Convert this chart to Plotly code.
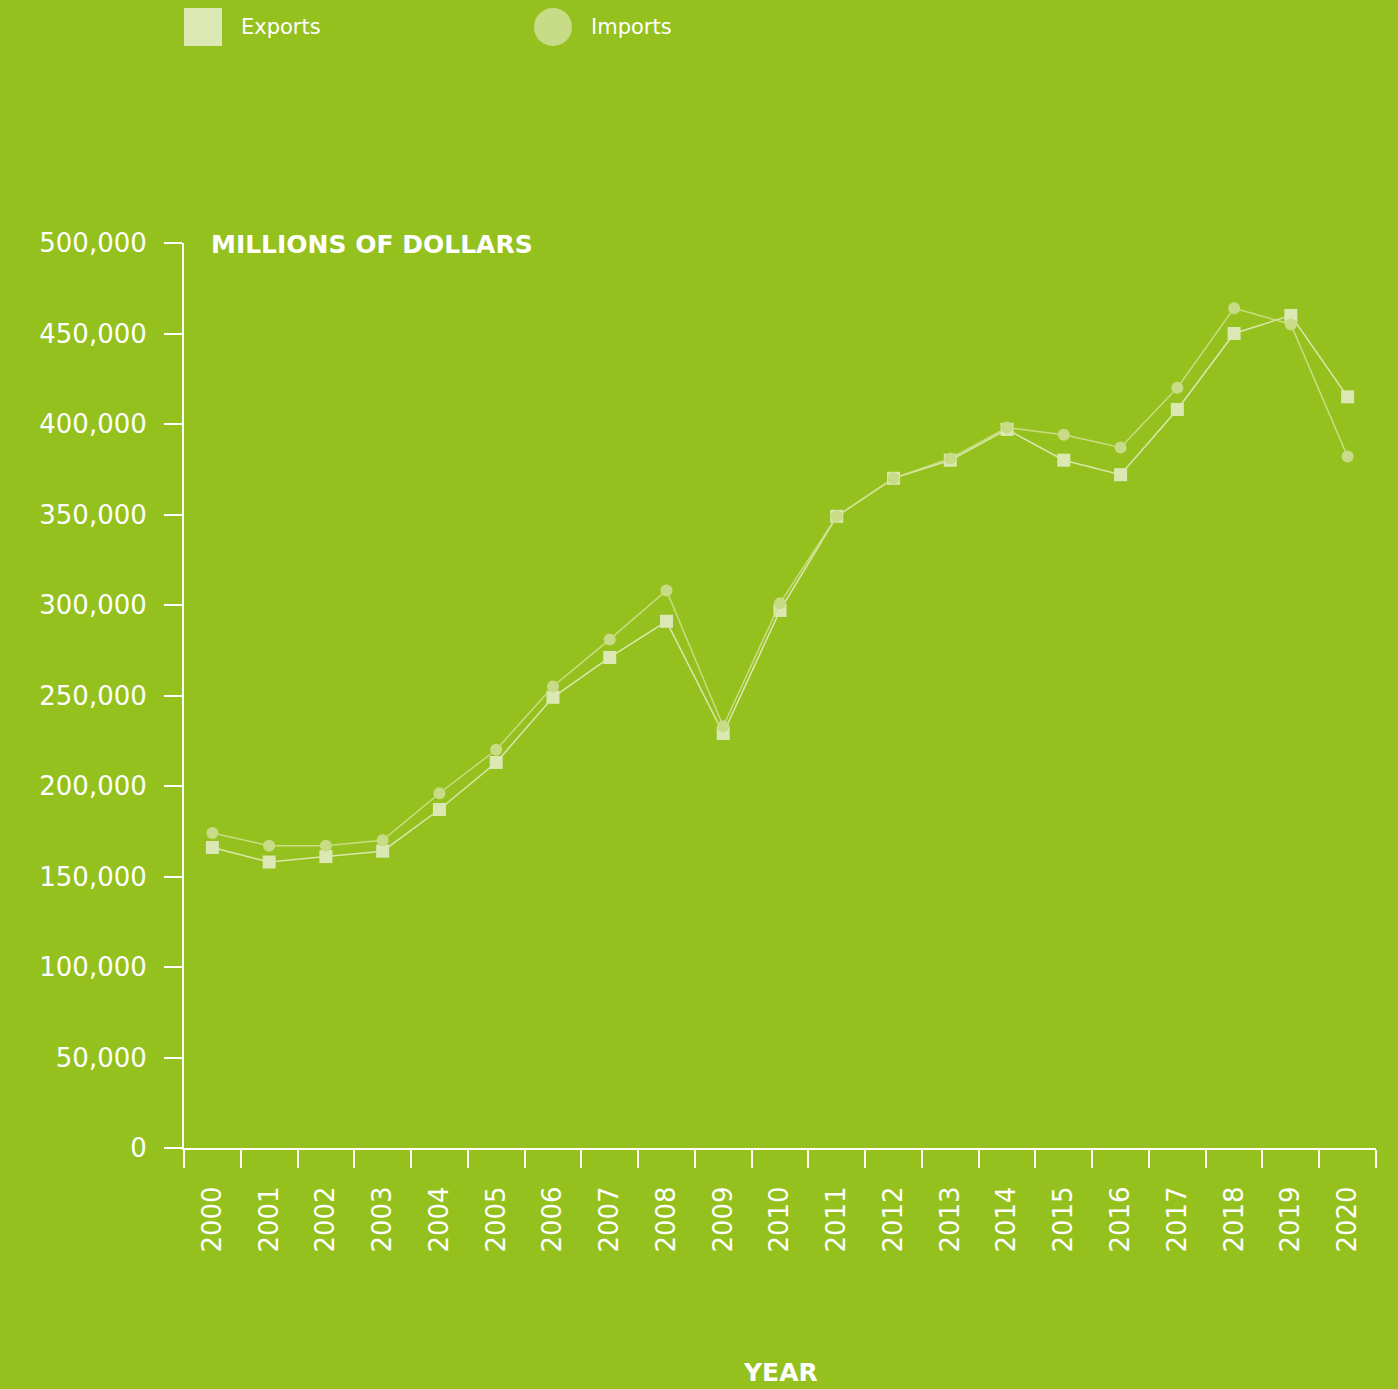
import plotly.graph_objects as go

# Trade totals by year, millions of US dollars
years = [str(y) for y in range(2000, 2021)]
exports = [166000, 158000, 161000, 164000, 187000, 213000, 249000, 271000, 291000, 229000,
           297000, 349000, 370000, 380000, 397000, 380000, 372000, 408000, 450000, 460000, 415000]
imports = [174000, 167000, 167000, 170000, 196000, 220000, 255000, 281000, 308000, 233000,
           301000, 349000, 370000, 381000, 398000, 394000, 387000, 420000, 464000, 455000, 382000]

series_names = ["Exports", "Imports"]
y_title = "MILLIONS OF DOLLARS"
x_title = "YEAR"

BG = "#95C11F"
EXP_COLOR = "#DCE8B4"
IMP_COLOR = "#C8DB87"
FONT = "DejaVu Sans"

W, H = 1398, 1389
M_L, M_R, M_T, M_B = 184, 22, 243, 241
PW = W - M_L - M_R
PH = H - M_T - M_B


def px_x(px):
    return (px - M_L) / PW


def px_y(py):
    return (H - M_B - py) / PH


fig = go.Figure()
fig.add_trace(go.Scatter(
    x=years, y=exports, name=series_names[0], mode="lines+markers",
    line=dict(color="rgba(226,236,190,0.9)", width=1.5),
    marker=dict(symbol="square", size=13, color=EXP_COLOR),
    showlegend=False,
))
fig.add_trace(go.Scatter(
    x=years, y=imports, name=series_names[1], mode="lines+markers",
    line=dict(color="rgba(206,224,140,0.9)", width=1.5),
    marker=dict(symbol="circle", size=12, color=IMP_COLOR),
    showlegend=False,
))

tick_font = dict(family=FONT, size=26, color="white")

fig.update_layout(
    width=W, height=H,
    margin=dict(l=M_L, r=M_R, t=M_T, b=M_B, autoexpand=False),
    paper_bgcolor=BG, plot_bgcolor=BG,
    font=dict(family=FONT, color="white"),
    xaxis=dict(
        type="category", range=[-0.5, len(years) - 0.5],
        showline=True, linecolor="white", linewidth=2,
        ticks="outside", tickson="boundaries", ticklen=18, tickwidth=2, tickcolor="white",
        tickangle=-90, tickfont=tick_font, ticklabelstandoff=26,
        showgrid=False, zeroline=False,
    ),
    yaxis=dict(
        range=[0, 500000], dtick=50000, tickformat=",",
        showline=True, linecolor="white", linewidth=2,
        ticks="outside", ticklen=18, tickwidth=2, tickcolor="white",
        tickfont=tick_font, ticklabelstandoff=12,
        showgrid=False, zeroline=False,
    ),
    showlegend=False,
)

# Axis titles
fig.add_annotation(text=y_title, xref="paper", yref="paper", x=px_x(209), y=px_y(244),
                   xanchor="left", yanchor="middle", showarrow=False,
                   font=dict(family=FONT, size=25, color="white", weight="bold"))
fig.add_annotation(text=x_title, xref="paper", yref="paper", x=0.5, y=px_y(1372),
                   xanchor="center", yanchor="middle", showarrow=False, borderpad=0,
                   font=dict(family=FONT, size=25, color="white", weight="bold"))

# Legend swatches and labels
legend_items = [
    (series_names[0], "rect", EXP_COLOR, 184, 239),
    (series_names[1], "circle", IMP_COLOR, 534, 589),
]
for name, shape, color, sx, tx in legend_items:
    fig.add_shape(type=shape, xref="paper", yref="paper",
                  x0=px_x(sx), x1=px_x(sx + 38), y0=px_y(46), y1=px_y(8),
                  fillcolor=color, line=dict(width=0))
    fig.add_annotation(text=name, xref="paper", yref="paper", x=px_x(tx), y=px_y(27),
                       xanchor="left", yanchor="middle", showarrow=False,
                       font=dict(family=FONT, size=21, color="white"))

fig.write_html("out.html")
